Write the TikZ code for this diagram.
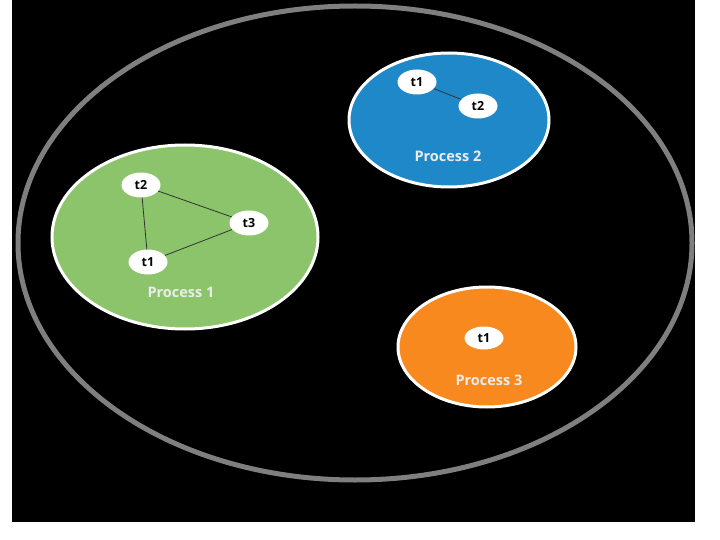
\documentclass[tikz,border=0pt]{standalone}
\usepackage{fontspec}
\setmainfont{Open Sans}
\definecolor{pgreen}{HTML}{8BC46A}
\definecolor{pblue}{HTML}{1F88C8}
\definecolor{porange}{HTML}{F7891F}
\definecolor{ring}{HTML}{7F7F7F}
\tikzset{
  proc/.style={ellipse, draw=white, line width=3pt},
  thr/.style={ellipse, fill=white, minimum width=39pt, minimum height=25pt, inner sep=0pt, font=\bfseries\fontsize{12.5}{13}\selectfont},
  plabel/.style={text=white!92!black, font=\bfseries\fontsize{14.5}{16}\selectfont},
  link/.style={draw=black!80, line width=0.8pt}
}
\usetikzlibrary{shapes.geometric}
\begin{document}
\begin{tikzpicture}[x=1pt,y=-1pt]
\useasboundingbox (0,0) rectangle (720,540);
\fill[white] (0,0) rectangle (720,540);
\fill[black] (12,0) rectangle (695,522);
\draw[ring, line width=5pt] (355,243) ellipse [x radius=337, y radius=237];
% Process 1
\draw[proc, fill=pgreen] (185,237) ellipse [x radius=133, y radius=92];
\node[thr] (a2) at (141,185) {t2};
\node[thr] (a3) at (249,223) {t3};
\node[thr] (a1) at (148,262) {t1};
\draw[link] (a2) -- (a3);
\draw[link] (a2) -- (a1);
\draw[link] (a1) -- (a3);
\node[plabel] (p1) at (181,292) {Process 1};
% Process 2
\draw[proc, fill=pblue] (449,120) ellipse [x radius=100, y radius=67];
\node[thr] (b1) at (417,82) {t1};
\node[thr] (b2) at (478,106) {t2};
\draw[link] (b1) -- (b2);
\node[plabel] (p2) at (448,156) {Process 2};
% Process 3
\draw[proc, fill=porange] (487,347) ellipse [x radius=89, y radius=60];
\node[thr, minimum height=23pt] (c1) at (484,338) {t1};
\node[plabel] (p3) at (489,380) {Process 3};
\end{tikzpicture}
\end{document}
